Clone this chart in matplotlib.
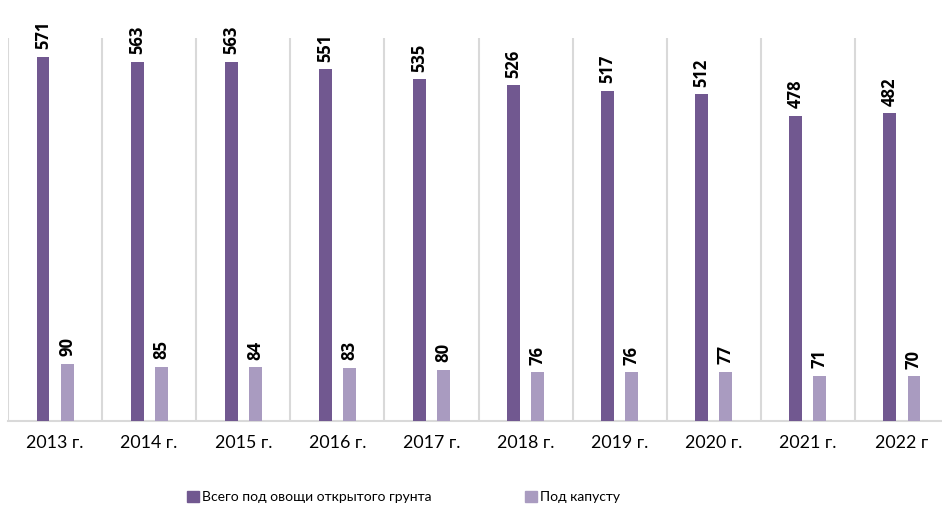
import numpy as np
import matplotlib
matplotlib.use("Agg")
import matplotlib.pyplot as plt
from matplotlib.patches import Patch

# Data
years = ["2013 г.", "2014 г.", "2015 г.", "2016 г.", "2017 г.",
         "2018 г.", "2019 г.", "2020 г.", "2021 г.", "2022 г"]
total_veg = [571, 563, 563, 551, 535, 526, 517, 512, 478, 482]
cabbage = [90, 85, 84, 83, 80, 76, 76, 77, 71, 70]
series_names = ["Всего под овощи открытого грунта", "Под капусту"]

dark = "#715890"
light = "#a99bc0"
grid_col = "#d9d9d9"

plt.rcParams['font.family'] = ['Lato', 'DejaVu Sans']

fig = plt.figure(figsize=(9.42, 5.08), dpi=100)
W, H = 942, 508
ax = fig.add_axes([8 / W, 1 - 421 / H, 941 / W, 383 / H])

x = np.arange(len(years))
bw = 0.138
off = 0.128
ax.bar(x - off, total_veg, bw, color=dark, zorder=3)
ax.bar(x + off, cabbage, bw, color=light, zorder=3)

lab_font = dict(rotation=90, ha="center", va="bottom", fontsize=12,
                fontweight="bold", family=["Open Sans", "DejaVu Sans"])
for xi, v in zip(x, total_veg):
    ax.annotate(str(v), (xi - off, v), xytext=(0, 5.5), textcoords="offset points", **lab_font)
for xi, v in zip(x, cabbage):
    ax.annotate(str(v), (xi + off, v), xytext=(0, 5.5), textcoords="offset points", **lab_font)

ax.set_xlim(-0.5, len(years) - 0.5)
ax.set_ylim(0, 600)

# separators between categories
for b in np.arange(-0.5, len(years) - 0.5, 1.0):
    ax.axvline(b, color=grid_col, lw=1.5, zorder=1)

ax.set_yticks([])
ax.set_xticks(x)
ax.set_xticklabels(years, fontsize=12.8)
ax.tick_params(axis="x", length=0, pad=10)
for s in ["top", "right", "left"]:
    ax.spines[s].set_visible(False)
ax.spines["bottom"].set_color(grid_col)
ax.spines["bottom"].set_linewidth(1.5)

leg_y = 1 - 497 / H
for col, name, lx in [(dark, series_names[0], 187 / W), (light, series_names[1], 525 / W)]:
    fig.legend([Patch(color=col)], [name], loc="center left", bbox_to_anchor=(lx, leg_y),
               frameon=False, fontsize=10, handlelength=0.85, handleheight=0.85,
               handletextpad=0.25, borderpad=0, borderaxespad=0)

fig.savefig("out.png", dpi=100)
